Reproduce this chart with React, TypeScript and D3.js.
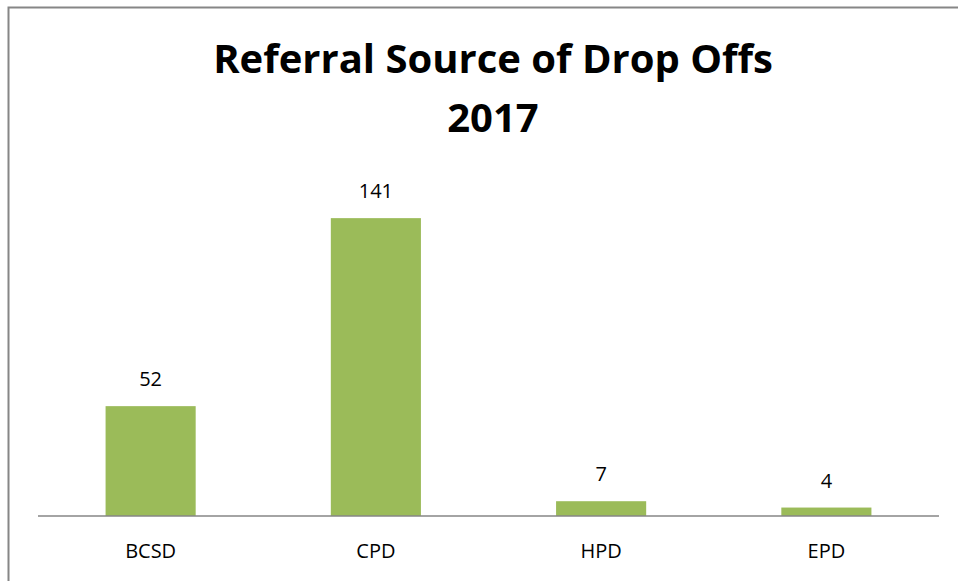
import React from "react";
import * as d3 from "d3";

const categories = ["BCSD", "CPD", "HPD", "EPD"];
const values = [52, 141, 7, 4];
const titleLines = ["Referral Source of Drop Offs", "2017"];

const W = 958;
const H = 581;
const plotLeft = 38;
const plotRight = 939;
const plotBottom = 516;
const plotTop = 178;

export default function App() {
  const x = d3
    .scaleBand<string>()
    .domain(categories)
    .range([plotLeft, plotRight])
    .paddingInner(0.6)
    .paddingOuter(0.3);
  const y = d3.scaleLinear().domain([0, 160]).range([plotBottom, plotTop]);
  const font = "'Open Sans', Lato, sans-serif";
  return (
    <svg
      width={W}
      height={H}
      style={{ position: "absolute", left: 0, top: 0, background: "#fff" }}
    >
      <rect x={0} y={0} width={W} height={H} fill="#fff" />
      <rect
        x={8.5}
        y={7.5}
        width={W + 10}
        height={H + 10}
        fill="none"
        stroke="#868686"
        strokeWidth={2}
      />
      <g fontFamily={font} fontWeight="bold" fill="#000" textAnchor="middle">
        <text x={493} y={73} fontSize={40}>
          {titleLines[0]}
        </text>
        <text x={493} y={132} fontSize={40}>
          {titleLines[1]}
        </text>
      </g>
      {categories.map((c, i) => (
        <rect
          key={c}
          x={x(c)}
          y={y(values[i])}
          width={x.bandwidth()}
          height={plotBottom - y(values[i])}
          fill="#9BBB59"
        />
      ))}
      <line
        x1={plotLeft}
        x2={plotRight}
        y1={plotBottom}
        y2={plotBottom}
        stroke="#868686"
        strokeWidth={1.5}
      />
      <g fontFamily={font} fontSize={20} fill="#000" textAnchor="middle">
        {categories.map((c, i) => (
          <text key={"v" + c} x={(x(c) as number) + x.bandwidth() / 2} y={y(values[i]) - 20}>
            {values[i]}
          </text>
        ))}
        {categories.map((c) => (
          <text key={"c" + c} x={(x(c) as number) + x.bandwidth() / 2} y={558}>
            {c}
          </text>
        ))}
      </g>
    </svg>
  );
}
